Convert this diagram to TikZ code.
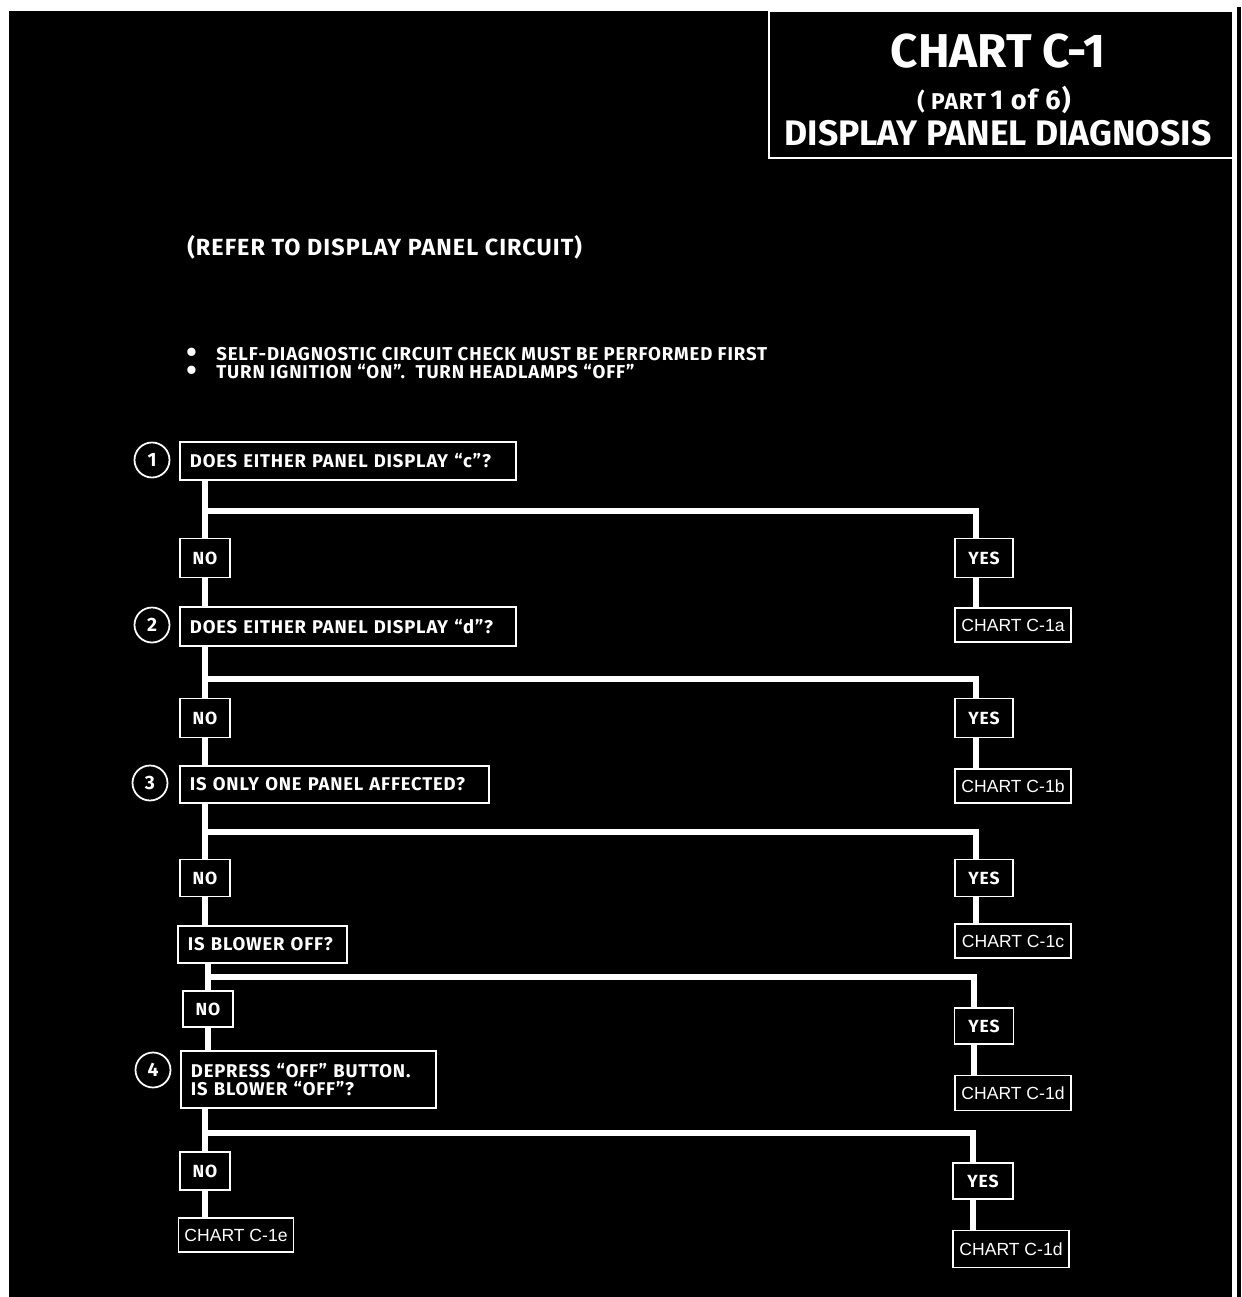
\documentclass[tikz,border=0pt]{standalone}
\usepackage{fontspec}
\setmainfont{Fira Sans}
\newfontfamily\flowfont{Fira Sans}[LetterSpace=4.5]
\newfontfamily\chartfont{Liberation Sans}
\newcommand{\blt}{\makebox[0.6cm][l]{\smash{\raisebox{-1.3pt}{\fontsize{17}{17}\selectfont\textbullet}}}}
\tikzset{
  qbox/.style={draw=white, fill=black, line width=1.1pt, text=white, anchor=north west,
    align=left, inner xsep=0.2cm, inner ysep=0pt, font=\flowfont\bfseries\fontsize{10.5}{10.5}\selectfont},
  ynbox/.style={draw=white, fill=black, line width=1.1pt, text=white, minimum width=1cm,
    minimum height=0.78cm, inner sep=0pt, font=\flowfont\bfseries\fontsize{10}{12}\selectfont},
  chartbox/.style={draw=white, fill=black, line width=1.1pt, text=white, minimum width=2.32cm,
    minimum height=0.68cm, inner sep=0pt, font=\chartfont\fontsize{10}{11}\selectfont},
  stepnum/.style={circle, draw=white, line width=1pt, text=white, minimum size=0.7cm,
    inner sep=0pt, font=\bfseries\fontsize{11}{12}\selectfont},
  plain/.style={text=white, inner sep=0pt},
  flow/.style={white, line width=3.2pt},
}
\begin{document}
\begin{tikzpicture}[x=0.02cm, y=-0.02cm]
    % Page: black sheet with a white gap on the right
    \useasboundingbox (0,0) rectangle (1241,1297);
    \fill[white] (0,0) rectangle (1241,1297);
    \fill[black] (9,11) rectangle (1232,1297);
    \fill[black] (1237,7) rectangle (1241,1297);

    % Title block
    \draw[white, line width=1.1pt] (769,11) rectangle (1234,158);
    \node[plain, anchor=base, font=\bfseries\fontsize{27}{30}\selectfont] (title) at (998,68) {CHART C-1};
    \node[plain, anchor=base, font=\flowfont\bfseries\fontsize{15.5}{17}\selectfont] (part) at (994,110)
        {{\fontsize{13}{15}\selectfont ( PART}\,1 of 6)};
    \node[plain, anchor=base, font=\bfseries\fontsize{20.2}{24}\selectfont] (subtitle) at (998,146)
        {DISPLAY PANEL DIAGNOSIS};

    % Notes
    \node[plain, anchor=base west, font=\flowfont\bfseries\fontsize{13.3}{15}\selectfont] (refer) at (187,256)
        {(REFER TO DISPLAY PANEL CIRCUIT)};
    \node[plain, anchor=base west, font=\flowfont\bfseries\fontsize{10.6}{12}\selectfont] (pre1) at (186,360)
        {\blt SELF-DIAGNOSTIC CIRCUIT CHECK MUST BE PERFORMED FIRST};
    \node[plain, anchor=base west, font=\flowfont\bfseries\fontsize{10.6}{12}\selectfont] (pre2) at (186,378)
        {\blt TURN IGNITION “ON”.\ \ TURN HEADLAMPS “OFF”};

    % Step 1
    \node[stepnum] (n1) at (152,460) {1};
    \node[qbox, text width=6.32cm, minimum height=0.76cm] (q1) at (179,441) {DOES EITHER PANEL DISPLAY “c”?};
    \node[ynbox] (no1) at (205,558) {NO};
    \node[ynbox, minimum width=1.16cm] (yes1) at (984,558) {YES};
    \node[chartbox] (ch1a) at (1013,625) {CHART C-1a};

    % Step 2
    \node[stepnum] (n2) at (152,625) {2};
    \node[qbox, text width=6.32cm, minimum height=0.78cm] (q2) at (179,606) {DOES EITHER PANEL DISPLAY “d”?};
    \node[ynbox] (no2) at (205,718) {NO};
    \node[ynbox, minimum width=1.16cm] (yes2) at (984,718) {YES};
    \node[chartbox] (ch1b) at (1013,786) {CHART C-1b};

    % Step 3
    \node[stepnum] (n3) at (150,783) {3};
    \node[qbox, text width=5.78cm, minimum height=0.74cm] (q3) at (179,765) {IS ONLY ONE PANEL AFFECTED?};
    \node[ynbox, minimum height=0.74cm] (no3) at (205,878) {NO};
    \node[ynbox, minimum width=1.16cm, minimum height=0.74cm] (yes3) at (984,878) {YES};
    \node[chartbox] (ch1c) at (1013,941) {CHART C-1c};

    % Blower check
    \node[qbox, text width=2.98cm, minimum height=0.74cm] (blower) at (177,925) {IS BLOWER OFF?};
    \node[ynbox, minimum height=0.72cm] (no4) at (208,1009) {NO};
    \node[ynbox, minimum width=1.18cm, minimum height=0.72cm] (yes4) at (984,1026) {YES};
    \node[chartbox, minimum height=0.7cm] (ch1d) at (1013,1093) {CHART C-1d};

    % Step 4
    \node[stepnum] (n4) at (153,1070) {4};
    \node[qbox, text width=4.7cm, minimum height=1.14cm] (q4) at (180,1050)
        {DEPRESS “OFF” BUTTON.\\IS BLOWER “OFF”?};
    \node[ynbox, minimum height=0.76cm] (no5) at (205,1171) {NO};
    \node[ynbox, minimum width=1.2cm, minimum height=0.72cm] (yes5) at (983,1181) {YES};
    \node[chartbox, minimum height=0.74cm] (ch1dd) at (1011,1249) {CHART C-1d};
    \node[chartbox, minimum width=2.3cm] (ch1e) at (236,1235) {CHART C-1e};

    % Branch points
    \coordinate (b1) at (205,511);  \coordinate (r1) at (976,511);
    \coordinate (b2) at (205,679);  \coordinate (r2) at (976,679);
    \coordinate (b3) at (205,832);  \coordinate (r3) at (976,832);
    \coordinate (b4) at (205,977);  \coordinate (r4) at (974,977);
    \coordinate (b5) at (205,1133); \coordinate (r5) at (973,1133);

    % Main line (NO side)
    \draw[flow] (q1.south -| no1) -- (no1.north);
    \draw[flow] (no1.south) -- (no1.south |- q2.north);
    \draw[flow] (q2.south -| no2) -- (no2.north);
    \draw[flow] (no2.south) -- (no2.south |- q3.north);
    \draw[flow] (q3.south -| no3) -- (no3.north);
    \draw[flow] (no3.south) -- (no3.south |- blower.north);
    \draw[flow] (blower.south -| no4) -- (no4.north);
    \draw[flow] (no4.south) -- (no4.south |- q4.north);
    \draw[flow] (q4.south -| no5) -- (no5.north);
    \draw[flow] (no5.south) -- (no5.south |- ch1e.north);

    % YES side
    \draw[flow] (b1) -- (r1) -- (r1 |- yes1.north);
    \draw[flow] (yes1.south -| r1) -- (ch1a.north -| r1);
    \draw[flow] (b2) -- (r2) -- (r2 |- yes2.north);
    \draw[flow] (yes2.south -| r2) -- (ch1b.north -| r2);
    \draw[flow] (b3) -- (r3) -- (r3 |- yes3.north);
    \draw[flow] (yes3.south -| r3) -- (ch1c.north -| r3);
    \draw[flow] (b4) -- (r4) -- (r4 |- yes4.north);
    \draw[flow] (yes4.south -| r4) -- (ch1d.north -| r4);
    \draw[flow] (b5) -- (r5) -- (r5 |- yes5.north);
    \draw[flow] (yes5.south -| r5) -- (ch1dd.north -| r5);
\end{tikzpicture}
\end{document}
